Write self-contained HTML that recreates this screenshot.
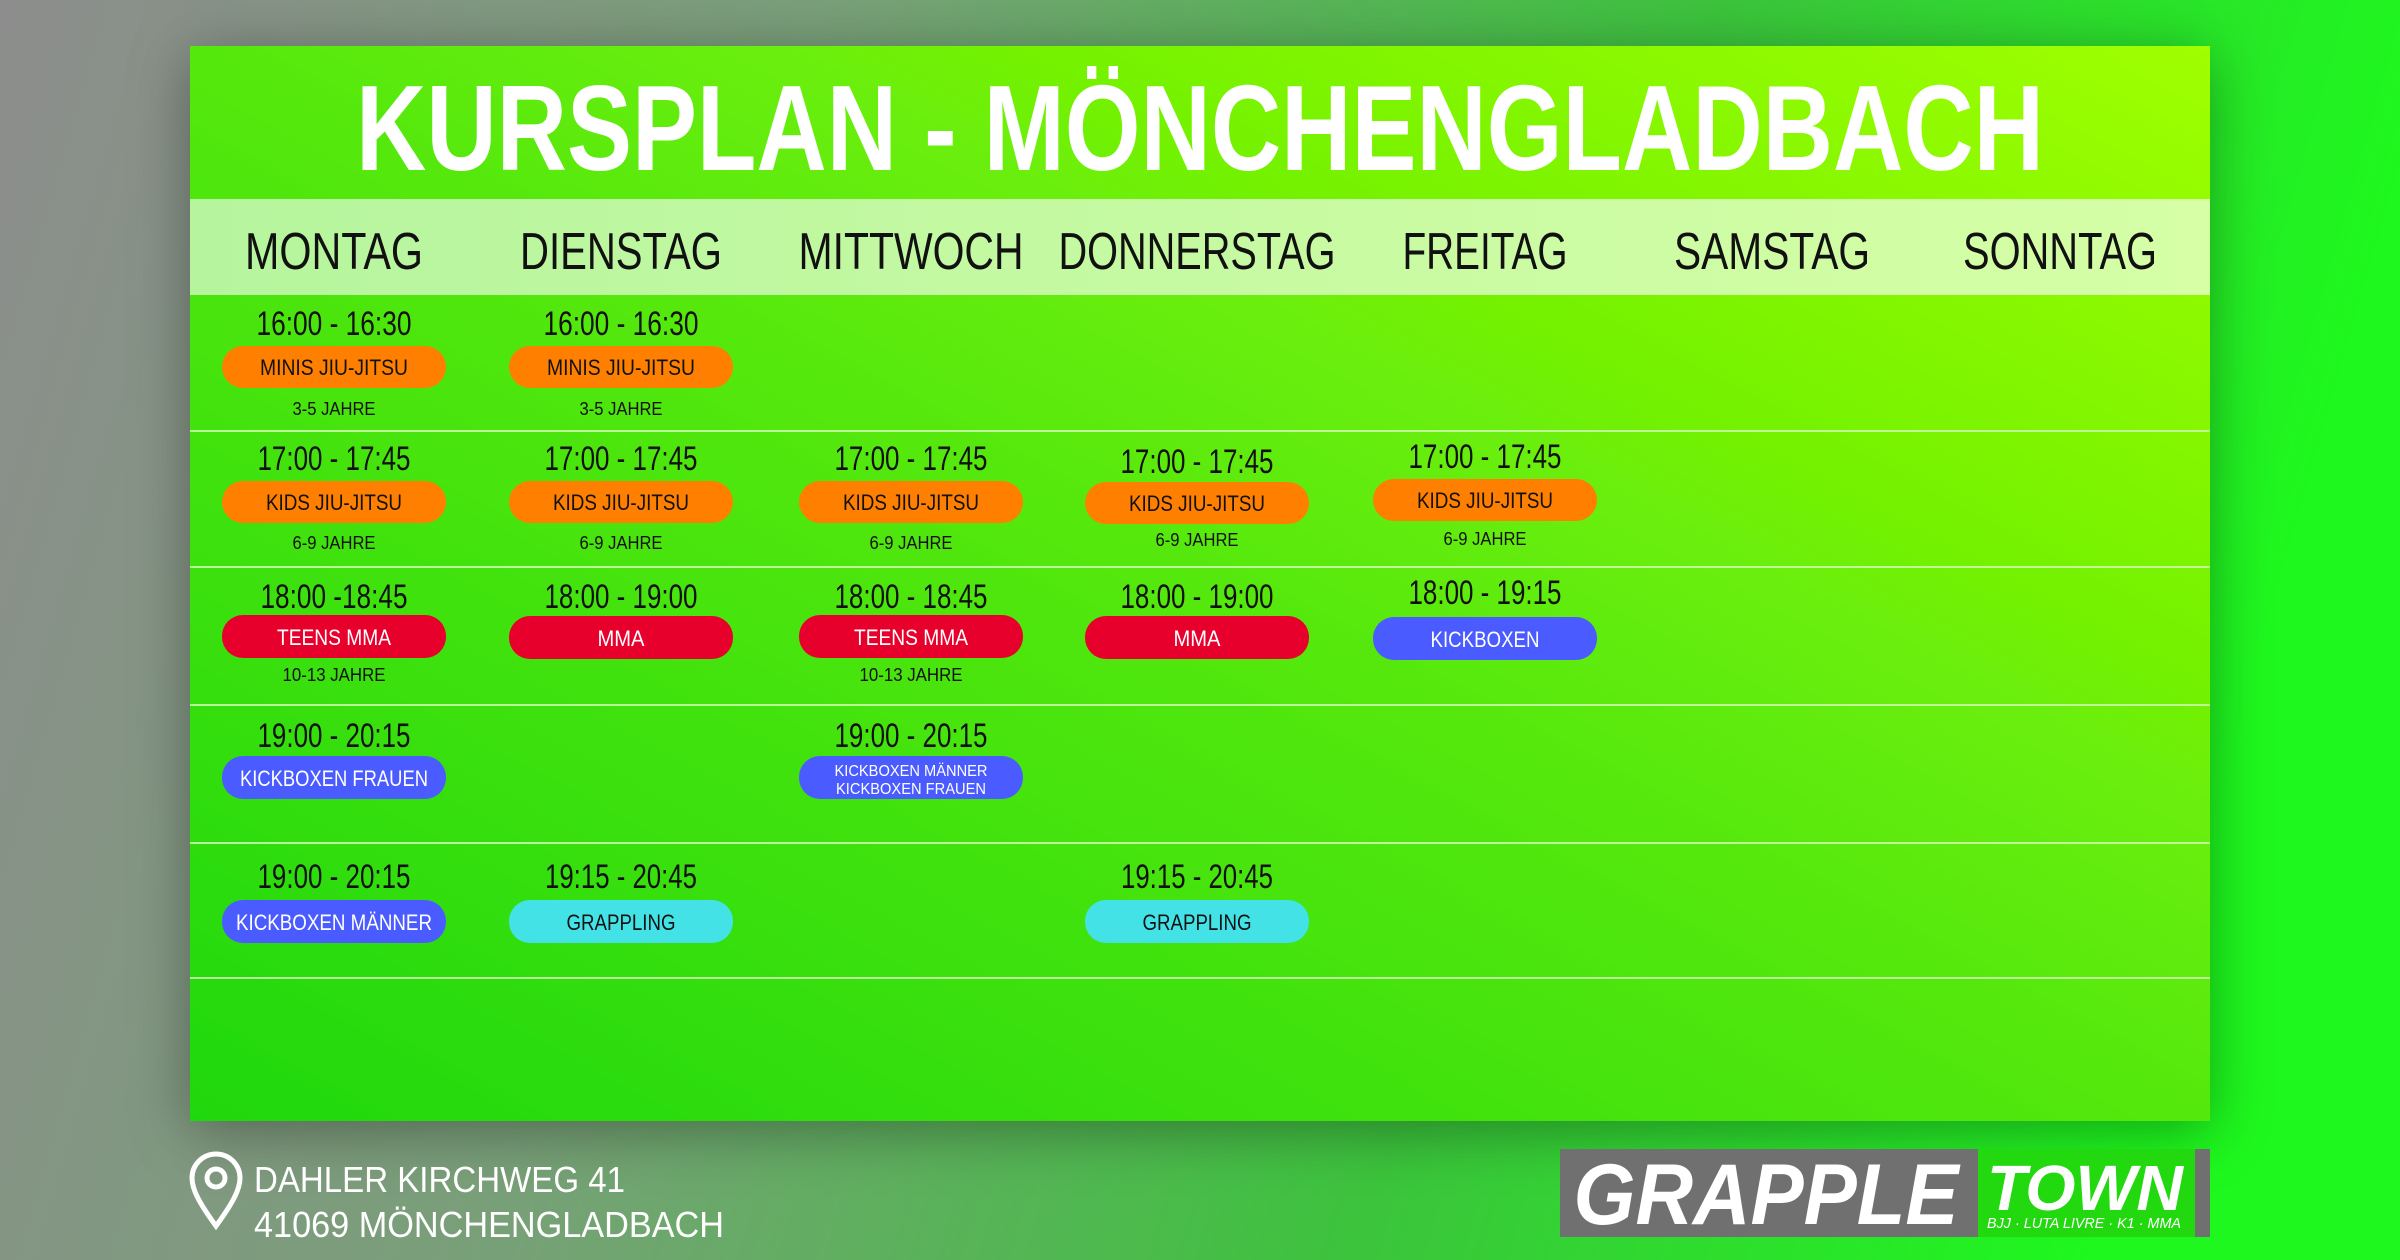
<!DOCTYPE html>
<html><head><meta charset="utf-8"><style>
html,body{margin:0;padding:0;width:2400px;height:1260px;overflow:hidden}
svg{display:block}
text{font-family:"Liberation Sans",sans-serif}
</style></head><body>
<svg width="2400" height="1260" viewBox="0 0 2400 1260" xmlns="http://www.w3.org/2000/svg">
<defs>
<linearGradient id="bg" x1="0" y1="0" x2="1" y2="0.15">
<stop offset="0" stop-color="#8d8d8d"/><stop offset="0.35" stop-color="#78a078"/><stop offset="0.7" stop-color="#3cc43c"/><stop offset="1" stop-color="#1ef81e"/>
</linearGradient>
<linearGradient id="pan" x1="0" y1="1" x2="1" y2="0">
<stop offset="0" stop-color="#1fd80f"/><stop offset="0.5" stop-color="#55e80a"/><stop offset="1" stop-color="#a0ff00"/>
</linearGradient>
<linearGradient id="hdr" x1="0" y1="0" x2="1" y2="0">
<stop offset="0" stop-color="#b6f59e"/><stop offset="1" stop-color="#d6ffa6"/>
</linearGradient>
<filter id="sh" x="-10%" y="-10%" width="120%" height="130%"><feDropShadow dx="0" dy="10" stdDeviation="30" flood-color="#000" flood-opacity="0.35"/></filter>
</defs>
<rect width="2400" height="1260" fill="url(#bg)"/>
<rect x="190" y="46" width="2020" height="1075" fill="url(#pan)" filter="url(#sh)"/>
<text x="1200" y="170" text-anchor="middle" font-size="122" font-weight="bold" fill="#fff" textLength="1688" lengthAdjust="spacingAndGlyphs">KURSPLAN - MÖNCHENGLADBACH</text>
<rect x="190" y="199" width="2020" height="96" fill="url(#hdr)"/>
<g font-size="52" fill="#111" text-anchor="middle">
<text x="334" y="269" textLength="178" lengthAdjust="spacingAndGlyphs">MONTAG</text>
<text x="621" y="269" textLength="202" lengthAdjust="spacingAndGlyphs">DIENSTAG</text>
<text x="911" y="269" textLength="225" lengthAdjust="spacingAndGlyphs">MITTWOCH</text>
<text x="1197" y="269" textLength="277" lengthAdjust="spacingAndGlyphs">DONNERSTAG</text>
<text x="1485" y="269" textLength="165" lengthAdjust="spacingAndGlyphs">FREITAG</text>
<text x="1772" y="269" textLength="196" lengthAdjust="spacingAndGlyphs">SAMSTAG</text>
<text x="2060" y="269" textLength="194" lengthAdjust="spacingAndGlyphs">SONNTAG</text>
</g>
<g stroke="#c8f7a8" stroke-width="2" opacity="0.9">
<line x1="190" y1="431" x2="2210" y2="431"/>
<line x1="190" y1="567" x2="2210" y2="567"/>
<line x1="190" y1="705" x2="2210" y2="705"/>
<line x1="190" y1="843" x2="2210" y2="843"/>
<line x1="190" y1="978" x2="2210" y2="978"/>
</g>
<g>
<rect x="222" y="346" width="224" height="42" rx="21" fill="#ff7f00"/>
<rect x="509" y="346" width="224" height="42" rx="21" fill="#ff7f00"/>
<rect x="222" y="481" width="224" height="42" rx="21" fill="#ff7f00"/>
<rect x="509" y="481" width="224" height="42" rx="21" fill="#ff7f00"/>
<rect x="799" y="481" width="224" height="42" rx="21" fill="#ff7f00"/>
<rect x="1085" y="482" width="224" height="42" rx="21" fill="#ff7f00"/>
<rect x="1373" y="479" width="224" height="42" rx="21" fill="#ff7f00"/>
<rect x="222" y="615" width="224" height="43" rx="21" fill="#e8002c"/>
<rect x="509" y="616" width="224" height="43" rx="21" fill="#e8002c"/>
<rect x="799" y="615" width="224" height="43" rx="21" fill="#e8002c"/>
<rect x="1085" y="616" width="224" height="43" rx="21" fill="#e8002c"/>
<rect x="1373" y="617" width="224" height="43" rx="21" fill="#4a5cff"/>
<rect x="222" y="756" width="224" height="43" rx="21" fill="#4a5cff"/>
<rect x="799" y="756" width="224" height="43" rx="21" fill="#4a5cff"/>
<rect x="222" y="900" width="224" height="43" rx="21" fill="#4a5cff"/>
<rect x="509" y="900" width="224" height="43" rx="21" fill="#42e2e6"/>
<rect x="1085" y="900" width="224" height="43" rx="21" fill="#42e2e6"/>
</g>
<g font-size="34" fill="#111" text-anchor="middle">
<text x="334" y="335" textLength="155" lengthAdjust="spacingAndGlyphs">16:00 - 16:30</text>
<text x="621" y="335" textLength="155" lengthAdjust="spacingAndGlyphs">16:00 - 16:30</text>
<text x="334" y="470" textLength="153" lengthAdjust="spacingAndGlyphs">17:00 - 17:45</text>
<text x="621" y="470" textLength="153" lengthAdjust="spacingAndGlyphs">17:00 - 17:45</text>
<text x="911" y="470" textLength="153" lengthAdjust="spacingAndGlyphs">17:00 - 17:45</text>
<text x="1197" y="473" textLength="153" lengthAdjust="spacingAndGlyphs">17:00 - 17:45</text>
<text x="1485" y="468" textLength="153" lengthAdjust="spacingAndGlyphs">17:00 - 17:45</text>
<text x="334" y="608" textLength="147" lengthAdjust="spacingAndGlyphs">18:00 -18:45</text>
<text x="621" y="608" textLength="153" lengthAdjust="spacingAndGlyphs">18:00 - 19:00</text>
<text x="911" y="608" textLength="153" lengthAdjust="spacingAndGlyphs">18:00 - 18:45</text>
<text x="1197" y="608" textLength="153" lengthAdjust="spacingAndGlyphs">18:00 - 19:00</text>
<text x="1485" y="604" textLength="153" lengthAdjust="spacingAndGlyphs">18:00 - 19:15</text>
<text x="334" y="747" textLength="153" lengthAdjust="spacingAndGlyphs">19:00 - 20:15</text>
<text x="911" y="747" textLength="153" lengthAdjust="spacingAndGlyphs">19:00 - 20:15</text>
<text x="334" y="888" textLength="153" lengthAdjust="spacingAndGlyphs">19:00 - 20:15</text>
<text x="621" y="888" textLength="152" lengthAdjust="spacingAndGlyphs">19:15 - 20:45</text>
<text x="1197" y="888" textLength="152" lengthAdjust="spacingAndGlyphs">19:15 - 20:45</text>
</g>
<g font-size="22" text-anchor="middle">
<text x="334" y="375" fill="#111" textLength="148" lengthAdjust="spacingAndGlyphs">MINIS JIU-JITSU</text>
<text x="621" y="375" fill="#111" textLength="148" lengthAdjust="spacingAndGlyphs">MINIS JIU-JITSU</text>
<text x="334" y="510" fill="#111" textLength="136" lengthAdjust="spacingAndGlyphs">KIDS JIU-JITSU</text>
<text x="621" y="510" fill="#111" textLength="136" lengthAdjust="spacingAndGlyphs">KIDS JIU-JITSU</text>
<text x="911" y="510" fill="#111" textLength="136" lengthAdjust="spacingAndGlyphs">KIDS JIU-JITSU</text>
<text x="1197" y="511" fill="#111" textLength="136" lengthAdjust="spacingAndGlyphs">KIDS JIU-JITSU</text>
<text x="1485" y="508" fill="#111" textLength="136" lengthAdjust="spacingAndGlyphs">KIDS JIU-JITSU</text>
<text x="334" y="645" fill="#fff" textLength="114" lengthAdjust="spacingAndGlyphs">TEENS MMA</text>
<text x="621" y="646" fill="#fff" textLength="47" lengthAdjust="spacingAndGlyphs">MMA</text>
<text x="911" y="645" fill="#fff" textLength="114" lengthAdjust="spacingAndGlyphs">TEENS MMA</text>
<text x="1197" y="646" fill="#fff" textLength="47" lengthAdjust="spacingAndGlyphs">MMA</text>
<text x="1485" y="647" fill="#fff" textLength="109" lengthAdjust="spacingAndGlyphs">KICKBOXEN</text>
<text x="334" y="786" fill="#fff" textLength="188" lengthAdjust="spacingAndGlyphs">KICKBOXEN FRAUEN</text>
<text x="334" y="930" fill="#fff" textLength="196" lengthAdjust="spacingAndGlyphs">KICKBOXEN MÄNNER</text>
<text x="621" y="930" fill="#111" textLength="109" lengthAdjust="spacingAndGlyphs">GRAPPLING</text>
<text x="1197" y="930" fill="#111" textLength="109" lengthAdjust="spacingAndGlyphs">GRAPPLING</text>
</g>
<g font-size="16" fill="#fff" text-anchor="middle">
<text x="911" y="776" textLength="153" lengthAdjust="spacingAndGlyphs">KICKBOXEN MÄNNER</text>
<text x="911" y="794" textLength="150" lengthAdjust="spacingAndGlyphs">KICKBOXEN FRAUEN</text>
</g>
<g font-size="18" fill="#111" text-anchor="middle">
<text x="334" y="415" textLength="83" lengthAdjust="spacingAndGlyphs">3-5 JAHRE</text>
<text x="621" y="415" textLength="83" lengthAdjust="spacingAndGlyphs">3-5 JAHRE</text>
<text x="334" y="549" textLength="83" lengthAdjust="spacingAndGlyphs">6-9 JAHRE</text>
<text x="621" y="549" textLength="83" lengthAdjust="spacingAndGlyphs">6-9 JAHRE</text>
<text x="911" y="549" textLength="83" lengthAdjust="spacingAndGlyphs">6-9 JAHRE</text>
<text x="1197" y="546" textLength="83" lengthAdjust="spacingAndGlyphs">6-9 JAHRE</text>
<text x="1485" y="545" textLength="83" lengthAdjust="spacingAndGlyphs">6-9 JAHRE</text>
<text x="334" y="681" textLength="103" lengthAdjust="spacingAndGlyphs">10-13 JAHRE</text>
<text x="911" y="681" textLength="103" lengthAdjust="spacingAndGlyphs">10-13 JAHRE</text>
</g>
<g fill="none" stroke="#fff" stroke-width="5">
<path d="M216 1226 C200 1204 192 1190 192 1178 A24 24 0 0 1 240 1178 C240 1190 232 1204 216 1226 Z"/>
<circle cx="216" cy="1178" r="9"/>
</g>
<g font-size="36" fill="#fff">
<text x="254" y="1192" textLength="371" lengthAdjust="spacingAndGlyphs">DAHLER KIRCHWEG 41</text>
<text x="254" y="1237" textLength="470" lengthAdjust="spacingAndGlyphs">41069 MÖNCHENGLADBACH</text>
</g>
<rect x="1560" y="1149" width="650" height="88" fill="#707070"/>
<rect x="1978" y="1149" width="217" height="88" fill="#22d80f"/>
<text x="1766" y="1224" text-anchor="middle" font-size="86" font-weight="bold" font-style="italic" fill="#fff" textLength="385" lengthAdjust="spacingAndGlyphs">GRAPPLE</text>
<text x="2085" y="1210" text-anchor="middle" font-size="64" font-weight="bold" font-style="italic" fill="#fff" textLength="196" lengthAdjust="spacingAndGlyphs">TOWN</text>
<text x="2084" y="1228" text-anchor="middle" font-size="15" font-style="italic" fill="#fff" textLength="194" lengthAdjust="spacingAndGlyphs">BJJ · LUTA LIVRE · K1 · MMA</text>
</svg>
</body></html>
